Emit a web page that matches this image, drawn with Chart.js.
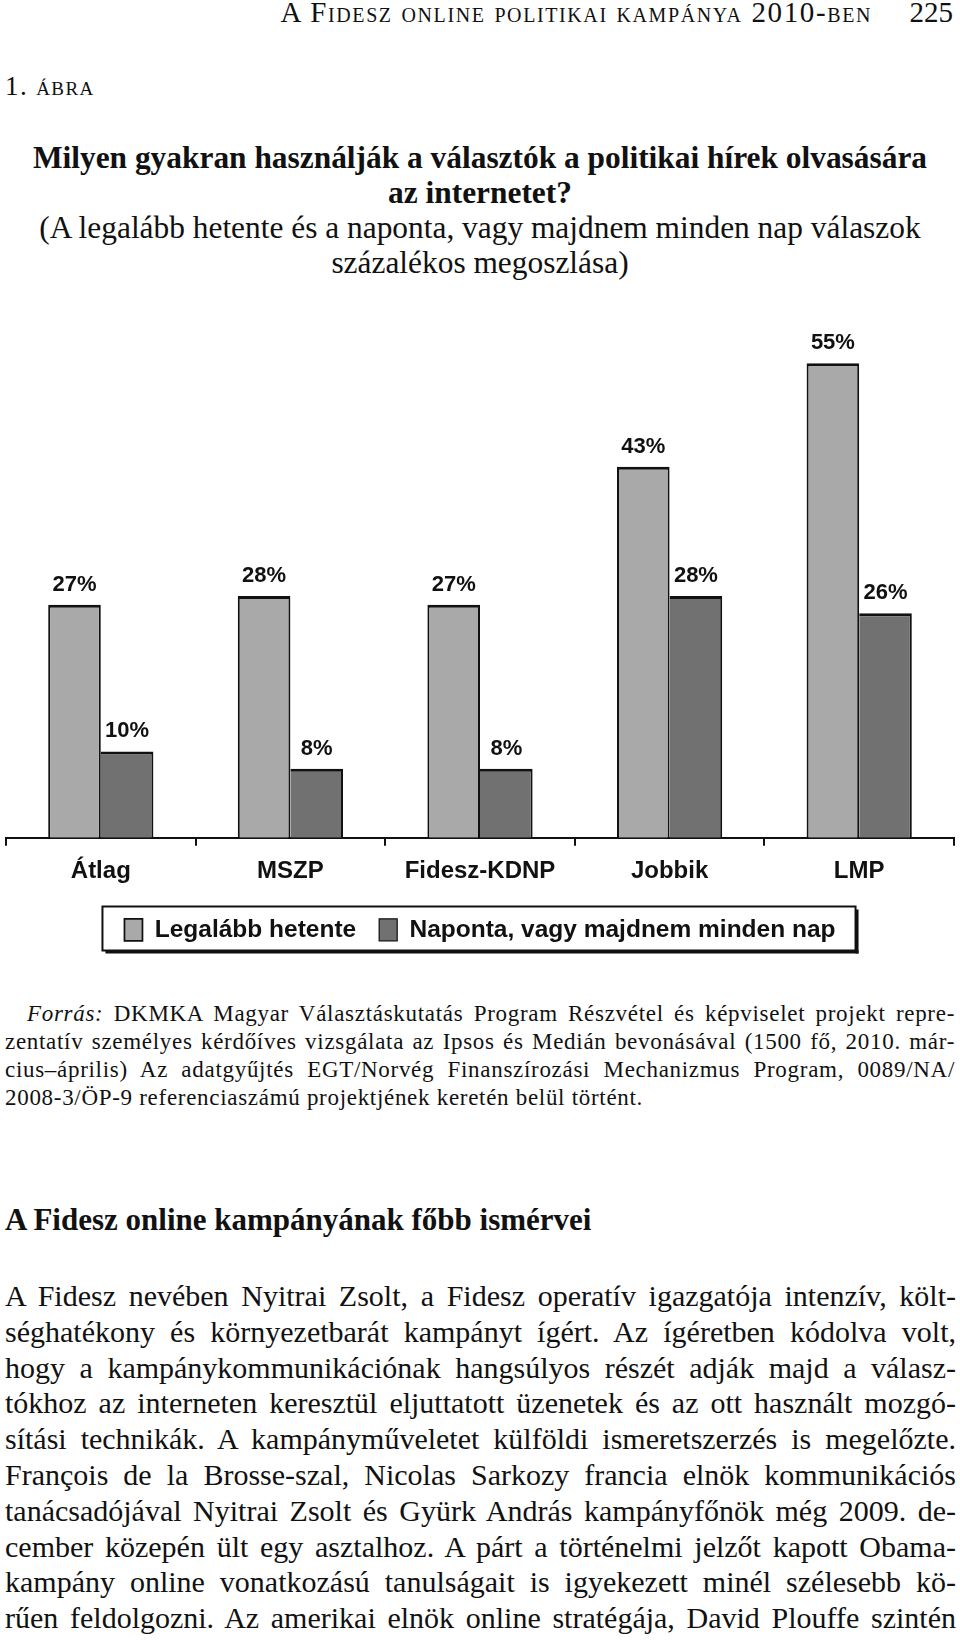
<!DOCTYPE html>
<html lang="hu">
<head>
<meta charset="utf-8">
<title>A Fidesz online politikai kampánya 2010-ben</title>
<script src="https://cdn.jsdelivr.net/npm/chart.js@4.4.1/dist/chart.umd.min.js"></script>
<style>
  html, body { margin: 0; padding: 0; background: #fff; }
  body { width: 960px; height: 1640px; position: relative; overflow: hidden; color: #111;
         font-family: "Liberation Serif", "Times New Roman", serif; }
  .abs { position: absolute; white-space: nowrap; }
  .sc { font-variant: small-caps; }
  .header { right: 88px; top: -3px; font-size: 29px; line-height: 30px; letter-spacing: 1.6px; }
  .pageno { right: 7px; top: -3px; font-size: 29px; line-height: 30px; }
  .fig { left: 5px; top: 71px; font-size: 27px; line-height: 30px; letter-spacing: 1.4px; }
  .title { left: 0; width: 960px; text-align: center; font-size: 31.4px; line-height: 35px; }
  .title b { display: block; }
  .jline { display: block; text-align: justify; text-align-last: justify; white-space: nowrap; }
  .jline.last { text-align: left; text-align-last: left; }
  .source { left: 5px; width: 950px; top: 1000px; font-size: 23px; line-height: 28px; letter-spacing: 0.7px; }
  .heading { left: 5px; top: 1202px; font-size: 31px; line-height: 35px; font-weight: bold; }
  .body { left: 5px; width: 951px; top: 1278px; font-size: 30px; line-height: 35.8px; }
  #chartBox { position: absolute; left: 0; top: 300px; width: 960px; height: 670px; }
</style>
</head>
<body>

<div class="abs header">A F<span class="sc">idesz online politikai kampánya</span> 2010-<span class="sc">ben</span></div>
<div class="abs pageno">225</div>
<div class="abs fig">1. <span class="sc">ábra</span></div>

<div class="abs title" style="top:140px">
  <b>Milyen gyakran használják a választók a politikai hírek olvasására</b>
  <b>az internetet?</b>
  <span style="display:block">(A legalább hetente és a naponta, vagy majdnem minden nap válaszok</span>
  <span style="display:block">százalékos megoszlása)</span>
</div>

<div id="chartBox"><canvas id="chart"></canvas></div>

<div class="abs source">
  <span class="jline"><span style="padding-left:22px"></span><i>Forrás:</i> DKMKA Magyar Választáskutatás Program Részvétel és képviselet projekt repre-</span>
  <span class="jline">zentatív személyes kérdőíves vizsgálata az Ipsos és Medián bevonásával (1500 fő, 2010. már-</span>
  <span class="jline">cius–április) Az adatgyűjtés EGT/Norvég Finanszírozási Mechanizmus Program, 0089/NA/</span>
  <span class="jline last">2008-3/ÖP-9 referenciaszámú projektjének keretén belül történt.</span>
</div>

<div class="abs heading">A Fidesz online kampányának főbb ismérvei</div>

<div class="abs body">
  <span class="jline">A Fidesz nevében Nyitrai Zsolt, a Fidesz operatív igazgatója intenzív, költ-</span>
  <span class="jline">séghatékony és környezetbarát kampányt ígért. Az ígéretben kódolva volt,</span>
  <span class="jline">hogy a kampánykommunikációnak hangsúlyos részét adják majd a válasz-</span>
  <span class="jline">tókhoz az interneten keresztül eljuttatott üzenetek és az ott használt mozgó-</span>
  <span class="jline">sítási technikák. A kampányműveletet külföldi ismeretszerzés is megelőzte.</span>
  <span class="jline">François de la Brosse-szal, Nicolas Sarkozy francia elnök kommunikációs</span>
  <span class="jline">tanácsadójával Nyitrai Zsolt és Gyürk András kampányfőnök még 2009. de-</span>
  <span class="jline">cember közepén ült egy asztalhoz. A párt a történelmi jelzőt kapott Obama-</span>
  <span class="jline">kampány online vonatkozású tanulságait is igyekezett minél szélesebb kö-</span>
  <span class="jline">rűen feldolgozni. Az amerikai elnök online stratégája, David Plouffe szintén</span>
</div>

<script>
// adatok
const categories = ['Átlag', 'MSZP', 'Fidesz-KDNP', 'Jobbik', 'LMP'];
const seriesNames = ['Legalább hetente', 'Naponta, vagy majdnem minden nap'];
const weeklyValues = [27, 28, 27, 43, 55];
const dailyValues = [10, 8, 8, 28, 26];
const valueSuffix = '%';

const SANS = '"Liberation Sans", Arial, Helvetica, sans-serif';
const INK = '#111111';

// % címkék az oszlopok fölött
const valueLabels = {
  id: 'valueLabels',
  afterDatasetsDraw(chart) {
    const ctx = chart.ctx;
    ctx.save();
    ctx.font = 'bold 22px ' + SANS;
    ctx.fillStyle = INK;
    ctx.textAlign = 'center';
    ctx.textBaseline = 'middle';
    chart.data.datasets.forEach((ds, i) => {
      chart.getDatasetMeta(i).data.forEach((bar, j) => {
        ctx.fillText(ds.data[j] + valueSuffix, bar.x, bar.y - 20);
      });
    });
    ctx.restore();
  }
};

// keret a jelmagyarázat körül (árnyékkal)
const legendFrame = {
  id: 'legendFrame',
  afterDraw(chart) {
    const boxes = chart.legend && chart.legend.legendHitBoxes;
    if (!boxes || !boxes.length) return;
    const left = Math.min(...boxes.map(b => b.left)) - 22;
    const right = Math.max(...boxes.map(b => b.left + b.width)) + 20;
    const top = boxes[0].top - 11;
    const h = 44;
    const ctx = chart.ctx;
    ctx.save();
    ctx.fillStyle = INK;
    ctx.fillRect(left + 3, top + h, right - left, 3);
    ctx.fillRect(right, top + 3, 3, h);
    ctx.lineWidth = 2;
    ctx.strokeStyle = INK;
    ctx.strokeRect(left, top, right - left, h);
    ctx.restore();
  }
};

new Chart(document.getElementById('chart'), {
  type: 'bar',
  data: {
    labels: categories,
    datasets: [
      {
        label: seriesNames[0],
        data: weeklyValues,
        backgroundColor: '#a9a9a9',
        borderColor: INK,
        borderWidth: { top: 3, left: 2, right: 2, bottom: 0 },
        categoryPercentage: 0.555,
        barPercentage: 1.0
      },
      {
        label: seriesNames[1],
        data: dailyValues,
        backgroundColor: '#717171',
        borderColor: INK,
        borderWidth: { top: 3, left: 0, right: 2, bottom: 0 },
        categoryPercentage: 0.555,
        barPercentage: 1.0
      }
    ]
  },
  options: {
    responsive: true,
    maintainAspectRatio: false,
    animation: false,
    layout: { padding: { top: 20, left: 6, right: 6, bottom: 18 } },
    plugins: {
      tooltip: { enabled: false },
      legend: {
        position: 'bottom',
        labels: {
          color: INK,
          font: { family: SANS, size: 24.5, weight: 'bold' },
          boxWidth: 18,
          boxHeight: 22,
          padding: 23
        }
      }
    },
    scales: {
      x: {
        grid: { drawOnChartArea: false, drawTicks: true, tickLength: 8, color: INK, lineWidth: 2 },
        border: { display: true, color: INK, width: 2 },
        ticks: { color: INK, padding: 11, font: { family: SANS, size: 24, weight: 'bold' } },
        afterFit(scale) { scale.height -= 2; }
      },
      y: { display: false, min: 0, max: 60 }
    }
  },
  plugins: [valueLabels, legendFrame]
});
</script>
</body>
</html>
